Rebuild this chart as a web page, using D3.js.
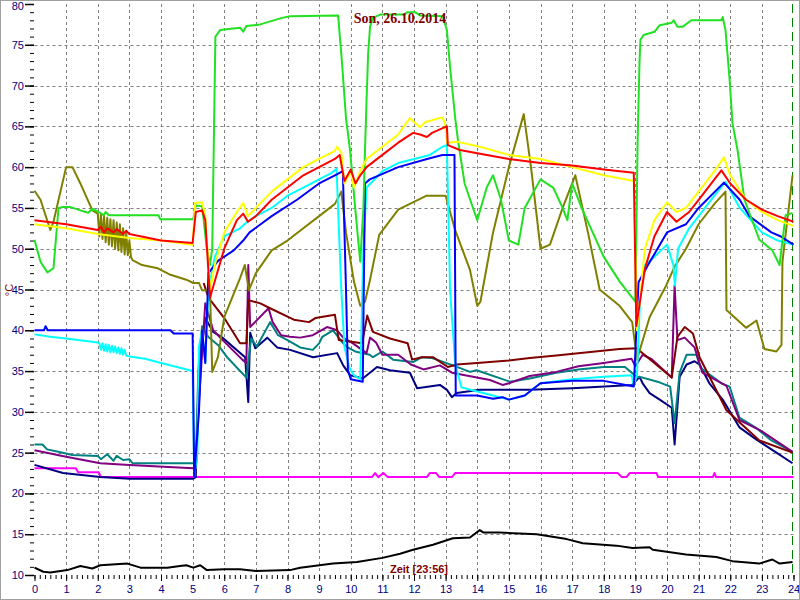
<!DOCTYPE html>
<html><head><meta charset="utf-8">
<script src="https://cdn.jsdelivr.net/npm/d3@7"></script>
<style>body{margin:0;background:#fff}svg{display:block}</style>
</head><body>
<svg id="c" width="800" height="600"></svg>
<script>
// ---------- data (hour, °C) ----------
const titleText = "Son, 26.10.2014";
const xLabelText = "Zeit [23:56]";
const yLabelText = "°C";
const hourTicks = [0,1,2,3,4,5,6,7,8,9,10,11,12,13,14,15,16,17,18,19,20,21,22,23,24];
const tempTicks = [10,15,20,25,30,35,40,45,50,55,60,65,70,75,80];
const nowHour = 23.95;

const green = [[0,51.1],[0.19,48.4],[0.41,47.1],[0.6,47.6],[0.76,55],[0.88,55.1],[1.14,55.1],[1.45,54.7],[1.7,54.4],[1.83,54.9],[2.08,54.4],[2.18,54.1],[2.25,54.5],[2.35,54.1],[3.92,54.1],[3.98,53.6],[5.02,53.6],[5.1,55.3],[5.3,55.2],[5.45,50],[5.55,48],[5.62,50],[5.72,76],[5.87,76.8],[6.5,77.1],[6.6,76.6],[6.7,77.3],[7.14,77.5],[7.83,78.3],[8.08,78.5],[9.6,78.6],[9.72,73],[9.85,66],[9.98,62],[10.14,55],[10.3,48.4],[10.4,55],[10.45,62],[10.5,68.2],[10.55,73.9],[10.61,77.2],[10.7,78.3],[10.93,78.7],[11.71,78.7],[11.78,79],[12.03,79],[12.19,78.6],[12.91,78.5],[13.04,76.8],[13.14,72.3],[13.3,66.1],[13.39,63.3],[13.6,58],[14.0,53.5],[14.3,57.5],[14.5,59],[14.75,56],[15.0,51],[15.3,50.5],[15.5,55],[16.0,58.5],[16.4,57.5],[16.7,55],[16.85,53.5],[17.0,58],[17.3,55],[18.0,49],[18.5,46],[18.9,44],[19.0,43.5],[19.07,63],[19.13,72.8],[19.16,75.6],[19.26,76.2],[19.61,76.6],[19.77,77.4],[20.15,77.7],[20.21,78],[20.33,77.2],[20.49,77.2],[20.77,78],[21.72,78],[21.76,78.4],[21.85,76.8],[21.98,70.7],[22.07,65.4],[22.23,62.1],[22.45,56],[22.92,51.1],[23.33,49.8],[23.56,48],[23.62,50],[23.75,54.1],[23.97,54.4]];

const yellow = [[0,53],[1,52.5],[2,51.8],[3,51.3],[4,51],[5.0,50.5],[5.08,55.6],[5.3,55.7],[5.4,54],[5.55,45],[5.7,48],[6.0,52],[6.4,54.5],[6.6,55.6],[6.75,54],[7.0,55],[7.5,57],[8.0,58.5],[8.5,60],[9.0,61],[9.5,62],[9.57,62.5],[9.7,61.8],[9.8,58],[10.0,59.5],[10.1,57.5],[10.3,59.5],[10.5,61],[11.0,62.5],[11.5,64],[11.87,66],[12.19,64.9],[12.35,65.5],[12.88,66.1],[12.98,65.5],[13.04,63],[13.39,63.1],[14.08,62.5],[15,61.5],[16,61],[17,60],[18,59],[18.95,58.3],[19.05,40],[19.3,50],[19.6,53.5],[20.0,55.7],[20.3,54.5],[20.6,55],[21,57],[21.5,59.5],[21.8,61.2],[22,59],[22.5,56],[23,54.5],[23.5,53.5],[24,52.8]];

const red = [[0,53.5],[1,53],[2,52.3],[2.1,52.7],[2.2,52],[2.3,52.5],[2.5,52],[2.6,52.4],[2.8,51.8],[2.9,52.2],[3,51.8],[4,51],[5.0,50.7],[5.1,54.5],[5.3,54.7],[5.4,53.5],[5.55,44],[5.7,46],[6.0,50],[6.4,53.5],[6.6,54.3],[6.75,53.3],[7.0,54],[7.5,56],[8.0,57.5],[8.5,59],[9.0,60],[9.5,61],[9.65,61.5],[9.8,58.3],[10.0,59.7],[10.15,58],[10.3,59],[10.5,60],[11,61.5],[11.5,63],[11.97,64.2],[12.19,64],[12.41,63.7],[12.57,64.2],[12.98,64.9],[13.04,65],[13.07,62.7],[13.45,62.1],[14,61.7],[15,61],[16,60.5],[17,60.2],[18,59.7],[18.95,59.3],[19.03,40.5],[19.3,47.5],[19.6,51.5],[20,54.5],[20.3,53.3],[20.7,54.5],[21,56],[21.5,58.5],[21.72,59.6],[22,58],[22.5,56],[23,54.8],[23.5,54],[24,53.3]];

const cyan = [[0,39.5],[0.5,39.2],[1,39],[2,38.5],[2.05,38.4],[2.1,37.6],[2.15,38.4],[2.2,37.5],[2.25,38.3],[2.3,37.4],[2.35,38.2],[2.4,37.3],[2.45,38.1],[2.5,37.3],[2.55,38],[2.6,37.2],[2.65,37.9],[2.7,37.1],[2.75,37.8],[2.8,37],[2.85,37.6],[2.9,36.9],[3,36.8],[3.5,36.5],[4,36],[4.5,35.5],[5.0,35],[5.05,22],[5.15,25],[5.2,38],[5.3,40],[5.4,36],[5.5,45],[5.7,49],[6.0,51.5],[6.5,52.5],[6.7,53.2],[7.0,54],[7.5,55],[8.0,56.5],[8.5,57.5],[9.0,58.5],[9.4,59.3],[9.55,59.8],[9.7,45],[9.8,38],[9.95,35.5],[10.1,34.5],[10.3,34],[10.4,50],[10.5,57.5],[11,59.5],[11.5,60.5],[12,61],[12.5,61.5],[12.9,62.5],[13.04,62.7],[13.14,45],[13.3,36],[13.5,33],[14,32.5],[14.5,32],[15,31.5],[15.5,32],[16,33.5],[17,34],[18,34.3],[18.88,34.5],[18.95,33.3],[19.05,34.5],[19.15,44],[19.3,48],[19.6,49],[20.0,50.5],[20.2,48],[20.25,45.5],[20.35,50],[20.7,52.5],[21,54],[21.5,56.5],[21.85,58.2],[22.3,55],[23,52],[23.5,51],[24,50.5]];

const blue = [[0,40],[0.3,40],[0.35,40.5],[0.42,40],[4.3,40],[4.4,39.6],[5.0,39.6],[5.05,22],[5.2,30],[5.3,40],[5.4,36],[5.5,47],[5.8,48.5],[6.3,49.8],[6.6,51],[6.8,52],[7.5,54],[8.3,56],[9.0,58],[9.5,59],[9.75,59.5],[9.85,45],[9.91,35.1],[10.0,34],[10.38,33.7],[10.45,58],[10.6,58.5],[11.5,60],[12.5,61.1],[12.9,61.5],[13.28,61.5],[13.32,32],[14,32],[14.5,31.6],[14.8,31.8],[15,31.5],[15.5,32],[16,33.5],[17,33.8],[18,33.8],[18.95,33.1],[19.1,45.9],[19.4,48],[20.0,52],[20.6,53],[21,55],[21.8,58.1],[22.3,56],[22.6,54],[23.3,52],[23.6,51.5],[24,50.5]];

const olive = [[0,57.1],[0.19,56],[0.5,52.3],[0.6,53.3],[1.0,60],[1.2,60],[1.45,58],[1.83,54.7],[2.0,54.3],[2.05,51.5],[2.1,54.2],[2.15,51.2],[2.2,54],[2.25,50.8],[2.3,53.8],[2.35,50.5],[2.4,53.6],[2.45,50.3],[2.5,53.5],[2.55,50],[2.6,53.2],[2.65,49.8],[2.7,53],[2.75,49.6],[2.8,52.5],[2.85,49.3],[2.9,52],[2.95,49.2],[3.0,51],[3.05,49],[3.1,48.6],[3.4,48],[3.9,47.6],[4.3,46.8],[4.8,46.2],[5.02,45.8],[5.2,45.8],[5.3,44.9],[5.55,44.9],[5.62,34.9],[5.8,36.7],[6.0,41.6],[6.5,46.4],[6.65,48],[6.78,44.9],[7.0,47],[7.5,49.8],[8.0,51],[8.5,52.5],[9.0,54],[9.5,55.5],[9.7,57],[9.85,52],[10.1,46],[10.3,43],[10.45,43.5],[10.6,46],[10.9,51.7],[11.5,54.8],[12.4,56.5],[13.0,56.5],[13.3,52.3],[13.77,47.4],[14.0,43],[14.1,43.5],[14.5,52],[15.0,60],[15.47,66.5],[15.7,60],[16.0,50],[16.3,50.5],[16.7,55],[17.1,59],[17.5,52],[17.87,45],[18.5,43],[18.9,41],[19.05,36.4],[19.45,41.6],[19.95,45.3],[20.24,47.8],[20.6,50],[21,53],[21.5,55.5],[21.85,57],[21.88,42.5],[22.5,40.3],[22.83,41.2],[23.08,37.7],[23.46,37.4],[23.62,38.2],[23.65,48.4],[23.97,59]];

const maroon = [[5.35,45.8],[5.5,44],[6.0,41.5],[6.5,38.4],[6.7,38.4],[6.76,43.7],[7.14,43.3],[7.45,42.7],[8.2,41.3],[8.68,41],[8.88,41.5],[9.5,41.9],[9.62,38.8],[10.36,38.4],[10.52,41.8],[10.7,39.8],[11.24,39],[11.8,38.4],[11.94,36.4],[12.25,36.7],[12.6,36.7],[13.07,35.5],[13.35,35.8],[14,36],[15,36.3],[15.66,36.6],[16.5,36.9],[17.5,37.3],[18.5,37.7],[19.04,37.8],[20.15,34.2],[20.33,39.2],[20.56,40.4],[20.82,39.6],[21.03,36.7],[21.88,30.2],[22.92,26.5],[23.97,25]];

const purple = [[0,25.3],[1.0,24.5],[2.08,23.7],[3.0,23.5],[5.02,23.1],[5.1,23.1],[5.18,30],[5.4,43.3],[5.65,40],[5.95,38.8],[6.57,36.4],[6.7,36],[6.76,48],[6.82,40.4],[7.4,42.7],[7.53,41],[7.8,39.4],[8.08,39.2],[8.4,39.1],[8.8,39.4],[9.25,40.4],[9.57,40],[9.76,39.1],[10.07,38.4],[10.5,37.2],[10.61,39.1],[10.8,38.5],[11.0,37],[11.5,37],[11.9,35.8],[12.3,35.2],[12.82,35.7],[13.2,34.8],[14.4,33.9],[14.8,33.3],[15.0,33.5],[15.66,34.4],[16.5,34.9],[17.2,35.6],[18,36],[18.88,36.5],[19.0,35.6],[19.23,37],[19.5,36.5],[20.15,34.2],[20.24,45.5],[20.33,38.8],[20.56,39.1],[20.87,37.9],[21.12,34.8],[21.88,33.2],[22.29,29],[22.92,27.8],[23.97,25.1]];

const teal = [[0,26],[0.25,26],[0.4,25.4],[0.75,25.1],[1.2,24.7],[2.0,24.6],[2.1,24.2],[2.3,24.8],[2.5,24],[2.6,24.6],[2.8,24.1],[3.0,24.2],[3.1,23.7],[5.02,23.7],[5.1,23.7],[5.18,35],[5.3,40.5],[5.49,39.2],[5.8,38.2],[6.09,36.7],[6.7,34.2],[6.85,39],[7.03,38],[7.45,41],[7.7,39.4],[8.0,38.8],[8.4,37.9],[8.8,37.6],[9.0,38.4],[9.1,39.2],[9.44,40],[9.76,38.4],[9.9,37.9],[10.14,37.4],[10.6,37],[10.7,36.7],[11.0,37.4],[11.34,36.4],[11.97,36.1],[12.25,36.7],[12.57,36.6],[13.23,35.7],[13.77,34.9],[13.98,35.1],[15.03,33.7],[15.66,34.1],[16.5,34.8],[17.2,35.2],[18.0,35.5],[18.67,35.5],[19.04,34.3],[19.23,34.2],[19.7,33.7],[20.1,33.1],[20.24,28.6],[20.4,34.8],[20.62,37],[20.93,37],[21.06,35.4],[21.72,33.5],[21.98,33.1],[22.29,29.3],[22.83,28],[23.3,26.5],[23.97,25.1]];

const navy = [[0,23.5],[0.9,22.5],[2.08,22],[3.0,21.8],[5.02,21.8],[5.1,22],[5.2,35],[5.4,41.5],[5.65,39.8],[5.94,39.1],[6.66,36.7],[6.76,31.2],[6.82,39.7],[6.98,37.8],[7.36,39.1],[7.67,37.9],[8.08,37.6],[8.81,36.7],[9.57,37.2],[9.76,35.7],[9.98,34.5],[10.38,34.1],[10.83,35.5],[11.24,35.1],[11.87,34.8],[12.1,32.9],[12.82,33.3],[13.04,32.7],[13.2,31.8],[13.35,32.3],[14.08,32.7],[15.66,32.7],[17,32.9],[18.9,33.3],[19.04,33.9],[19.13,34.3],[19.23,33.5],[19.45,32.3],[19.77,31.5],[20.15,30.5],[20.24,26],[20.4,34.3],[20.62,35.8],[20.87,36.2],[21.03,35.8],[21.34,33.5],[21.76,31.5],[22.29,28.1],[22.83,26.6],[23.46,25],[23.97,23.7]];

const magenta = [[0,23.1],[1.3,23.1],[1.38,22.6],[2.03,22.6],[2.1,22],[10.67,22],[10.77,22.5],[10.87,22],[11.03,22.5],[11.17,22],[12.41,22],[12.5,22.5],[12.7,22.5],[12.8,22],[13.2,22],[13.3,22.5],[18.44,22.5],[18.57,22],[18.72,22],[18.82,22.5],[19.67,22.5],[19.72,22],[21.45,22],[21.5,22.5],[21.55,22],[24,22]];

const black = [[0,10.9],[0.28,10.4],[0.5,10.3],[1.04,10.6],[1.45,11.1],[1.83,10.8],[2.08,11.2],[2.94,11.4],[3.35,10.9],[4.2,10.9],[4.6,11.1],[4.8,11.2],[5.02,10.9],[5.24,11.2],[5.45,10.6],[6.0,10.7],[6.5,10.7],[7.0,10.5],[8.08,10.6],[8.4,10.9],[9.44,11.4],[10.2,11.6],[11.0,12.1],[11.56,12.6],[11.97,13.1],[12.6,13.7],[13.23,14.5],[13.77,14.6],[14.08,15.5],[14.2,15.2],[14.71,15.2],[15.88,15],[16.83,14.4],[17.34,13.9],[18.4,13.6],[18.91,13.3],[19.45,13.4],[19.55,13.1],[20.6,12.5],[21.56,12.2],[22.07,11.7],[22.92,11.4],[23.33,11.9],[23.56,11.4],[23.97,11.6]];

const seriesList = [
  {data: black,   color: "#000000"},
  {data: magenta, color: "#ff00ff"},
  {data: navy,    color: "#000080"},
  {data: teal,    color: "#008080"},
  {data: purple,  color: "#800080"},
  {data: maroon,  color: "#800000"},
  {data: olive,   color: "#808000"},
  {data: cyan,    color: "#00ffff"},
  {data: blue,    color: "#0000ff"},
  {data: green,   color: "#22e022"},
  {data: yellow,  color: "#ffff00"},
  {data: red,     color: "#ff0000"}
];

// ---------- chart ----------
const svg = d3.select("#c");
const W = 800, H = 600;
const x = d3.scaleLinear().domain([0,24]).range([34.5,793.5]);
const y = d3.scaleLinear().domain([10,80]).range([575,4]);

svg.append("rect").attr("x",0).attr("y",0).attr("width",W).attr("height",H).attr("fill","#fff");

// grid
const grid = svg.append("g").attr("stroke","#808080").attr("stroke-width",1).attr("stroke-dasharray","3,3");
grid.selectAll("line.v").data(hourTicks.filter(d=>d>0&&d<24)).join("line")
  .attr("x1",d=>Math.round(x(d))+0.5).attr("x2",d=>Math.round(x(d))+0.5).attr("y1",y(80)).attr("y2",y(10));
grid.selectAll("line.h").data(tempTicks.filter(d=>d>10&&d<80)).join("line")
  .attr("y1",d=>Math.round(y(d))+0.5).attr("y2",d=>Math.round(y(d))+0.5).attr("x1",x(0)).attr("x2",x(24));

// now line
svg.append("line").attr("x1",Math.round(x(nowHour))+0.5).attr("x2",Math.round(x(nowHour))+0.5)
  .attr("y1",y(80)).attr("y2",y(10)).attr("stroke","#008000").attr("stroke-width",1).attr("stroke-dasharray","9,5");

// y axis
const yMinor = svg.append("g").attr("transform","translate(34,0)")
  .call(d3.axisLeft(y).tickValues(d3.range(10,81,1)).tickSize(4).tickFormat(""));
yMinor.select(".domain").remove();
yMinor.selectAll("line").attr("stroke","#000");
const yMajor = svg.append("g").attr("transform","translate(34,0)")
  .call(d3.axisLeft(y).tickValues(tempTicks).tickSize(9).tickPadding(1).tickFormat(d3.format("d")));
yMajor.select(".domain").remove();
yMajor.selectAll("line").attr("stroke","#000").attr("stroke-width",1.5);
yMajor.selectAll("text").attr("fill","#000080").style("font","11px 'Liberation Sans', Arial, sans-serif");
// keep the top label inside the picture
yMajor.selectAll(".tick").filter(d=>d===80).select("text").attr("dy","0.75em").attr("y",-3);

// x axis
const xMinor = svg.append("g").attr("transform","translate(0,575)")
  .call(d3.axisBottom(x).tickValues(d3.range(0,24.01,1/6)).tickSize(4).tickFormat(""));
xMinor.select(".domain").remove();
xMinor.selectAll("line").attr("stroke","#000");
const xMajor = svg.append("g").attr("transform","translate(0,575)")
  .call(d3.axisBottom(x).tickValues(hourTicks).tickSize(6).tickPadding(4).tickFormat(d3.format("d")));
xMajor.select(".domain").remove();
xMajor.selectAll("line").attr("stroke","#000");
xMajor.selectAll("text").attr("fill","#000080").style("font","11px 'Liberation Sans', Arial, sans-serif");

// series
const line = d3.line().x(d=>x(d[0])).y(d=>y(d[1]));
svg.append("g").selectAll("path").data(seriesList).join("path")
  .attr("d",d=>line(d.data)).attr("fill","none").attr("stroke",d=>d.color)
  .attr("stroke-width",2).attr("stroke-linejoin","round");

// labels
svg.append("text").attr("x",400).attr("y",23).attr("text-anchor","middle")
  .attr("fill","#800000").style("font","bold 14px 'Liberation Serif', 'Times New Roman', serif").text(titleText);
svg.append("text").attr("x",419).attr("y",573).attr("text-anchor","middle")
  .attr("fill","#800000").style("font","bold 11px 'Liberation Sans', Arial, sans-serif").text(xLabelText);
svg.append("text").attr("transform","translate(13,290) rotate(-90)").attr("text-anchor","middle")
  .attr("fill","#800000").style("font","11px 'Liberation Sans', Arial, sans-serif").text(yLabelText);

// frame
svg.append("rect").attr("x",0.5).attr("y",0.5).attr("width",W-1).attr("height",H-1)
  .attr("fill","none").attr("stroke","#a0a0a0");
</script>
</body></html>
